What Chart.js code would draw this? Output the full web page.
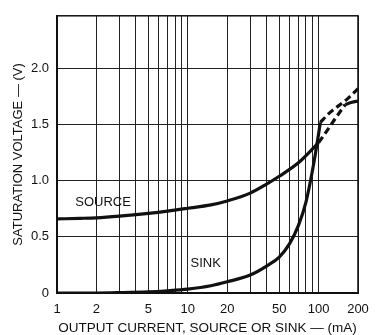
<!DOCTYPE html>
<html>
<head>
<meta charset="utf-8">
<script src="https://cdn.jsdelivr.net/npm/chart.js@4/dist/chart.umd.min.js"></script>
<style>
  html, body { margin: 0; padding: 0; background: #ffffff; }
  #wrap { width: 384px; height: 335px; position: relative; }
</style>
</head>
<body>
<div id="wrap"><canvas id="c" width="384" height="335"></canvas></div>
<script>
// ---- data ----
const sourceCurrent = [1, 1.5, 2, 3, 5, 7, 10, 15, 20, 30, 40, 50, 70, 100];
const sourceVoltage = [0.66, 0.665, 0.67, 0.685, 0.71, 0.73, 0.755, 0.785, 0.82, 0.89, 0.97, 1.04, 1.16, 1.34];
const sourceDashCurrent = [100, 115, 135, 160];
const sourceDashVoltage = [1.34, 1.44, 1.56, 1.68];
const sourceEndCurrent = [160, 180, 200];
const sourceEndVoltage = [1.68, 1.70, 1.71];

const sinkCurrent = [1, 2, 3, 5, 7, 10, 15, 20, 30, 40, 50, 60, 70, 80, 90, 100, 103];
const sinkVoltage = [0.0, 0.0, 0.003, 0.01, 0.02, 0.035, 0.065, 0.10, 0.16, 0.24, 0.32, 0.44, 0.60, 0.81, 1.10, 1.42, 1.52];
const sinkDashCurrent = [103, 120, 166, 200];
const sinkDashVoltage = [1.52, 1.60, 1.73, 1.82];

const xTickValues = [1, 2, 3, 4, 5, 6, 7, 8, 9, 10, 20, 30, 40, 50, 60, 70, 80, 90, 100, 200];
const xTickLabels = ['1', '2', '', '', '5', '', '', '', '', '10', '20', '', '', '50', '', '', '', '', '100', '200'];
const yTickValues = [0, 0.5, 1.0, 1.5, 2.0];
const yTickLabels = ['0', '0.5', '1.0', '1.5', '2.0'];

const xTitle = 'OUTPUT CURRENT, SOURCE OR SINK — (mA)';
const yTitle = 'SATURATION VOLTAGE — (V)';
const curveLabels = ['SOURCE', 'SINK'];

function pts(xs, ys) { return xs.map((x, i) => ({ x: x, y: ys[i] })); }

const FONT = '"Liberation Sans", Arial, Helvetica, sans-serif';
const INK = '#111111';

const lineBase = {
  borderColor: INK,
  borderWidth: 3.2,
  pointRadius: 0,
  fill: false,
  cubicInterpolationMode: 'monotone',
  borderCapStyle: 'butt'
};

const decor = {
  id: 'decor',
  afterDraw(chart) {
    const ctx = chart.ctx;
    const a = chart.chartArea;
    const xs = chart.scales.x, ys = chart.scales.y;
    ctx.save();
    // frame
    ctx.strokeStyle = INK;
    ctx.lineWidth = 1.5;
    ctx.strokeRect(a.left, a.top, a.right - a.left, a.bottom - a.top);
    // curve labels
    ctx.fillStyle = INK;
    ctx.font = '13px ' + FONT;
    ctx.textAlign = 'center';
    ctx.textBaseline = 'middle';
    ctx.fillText(curveLabels[0], xs.getPixelForValue(2.25), ys.getPixelForValue(0.81));
    ctx.fillText(curveLabels[1], xs.getPixelForValue(13.7), ys.getPixelForValue(0.26));
    // x title
    ctx.font = '13.5px ' + FONT;
    ctx.fillText(xTitle, (a.left + a.right) / 2, 328);
    // y title
    ctx.translate(18, (a.top + a.bottom) / 2);
    ctx.rotate(-Math.PI / 2);
    ctx.font = '13px ' + FONT;
    ctx.fillText(yTitle, 0, 0);
    ctx.restore();
  }
};

new Chart(document.getElementById('c'), {
  type: 'line',
  data: {
    datasets: [
      Object.assign({ label: 'SOURCE', data: pts(sourceCurrent, sourceVoltage) }, lineBase),
      Object.assign({ label: 'SOURCE ext', data: pts(sourceDashCurrent, sourceDashVoltage), borderDash: [7, 4] }, lineBase),
      Object.assign({ label: 'SOURCE end', data: pts(sourceEndCurrent, sourceEndVoltage) }, lineBase),
      Object.assign({ label: 'SINK', data: pts(sinkCurrent, sinkVoltage) }, lineBase),
      Object.assign({ label: 'SINK ext', data: pts(sinkDashCurrent, sinkDashVoltage), borderDash: [7, 4] }, lineBase)
    ]
  },
  options: {
    responsive: false,
    animation: false,
    devicePixelRatio: 1,
    layout: { padding: { top: 13, right: 26, left: 0, bottom: 0 } },
    plugins: { legend: { display: false }, tooltip: { enabled: false }, title: { display: false } },
    scales: {
      x: {
        type: 'logarithmic',
        min: 1,
        max: 200,
        afterBuildTicks: (s) => { s.ticks = xTickValues.map(v => ({ value: v })); },
        afterFit: (s) => { s.height = 42; },
        grid: { color: '#222222', lineWidth: 1, drawTicks: false },
        border: { display: true, color: INK, width: 2 },
        ticks: {
          autoSkip: false,
          maxRotation: 0,
          padding: 9,
          color: INK,
          font: { family: FONT, size: 13 },
          callback: (v, i) => xTickLabels[i]
        }
      },
      y: {
        type: 'linear',
        min: 0,
        max: 2.47,
        afterBuildTicks: (s) => { s.ticks = yTickValues.map(v => ({ value: v })); },
        afterFit: (s) => { s.width = 57; },
        grid: { color: '#222222', lineWidth: 1, drawTicks: false },
        border: { display: true, color: INK, width: 2 },
        ticks: {
          padding: 8,
          color: INK,
          font: { family: FONT, size: 13 },
          callback: (v, i) => yTickLabels[i]
        }
      }
    }
  },
  plugins: [decor]
});
</script>
</body>
</html>
